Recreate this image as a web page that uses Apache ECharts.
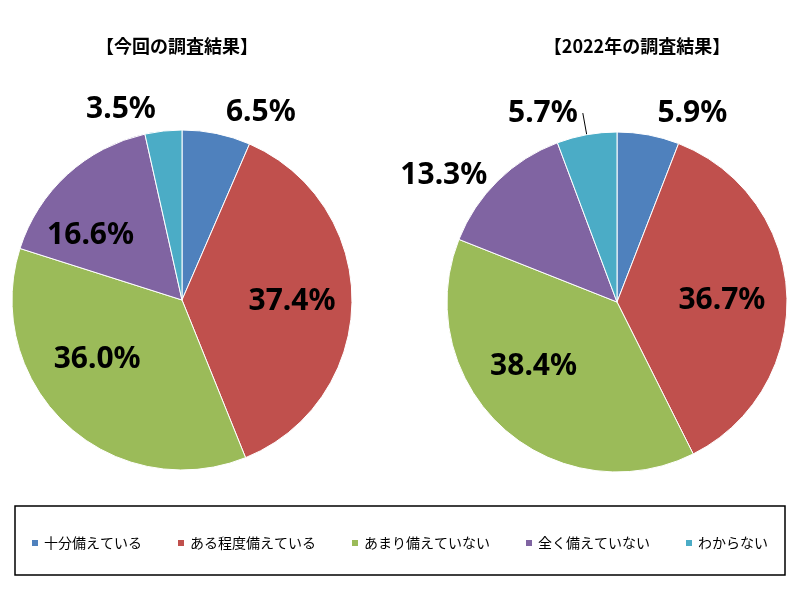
<!DOCTYPE html>
<html><head><meta charset="utf-8">
<script src="https://cdn.jsdelivr.net/npm/echarts@6/dist/echarts.min.js"></script>
<style>html,body{margin:0;padding:0;background:#fff}#c{width:798px;height:594px}</style>
</head><body><div id="c"></div>
<script>
const categories = ['十分備えている','ある程度備えている','あまり備えていない','全く備えていない','わからない'];
const currentValues = [6.5, 37.4, 36.0, 16.6, 3.5];
const prevValues = [5.9, 36.7, 38.4, 13.3, 5.7];
const titles = ['【今回の調査結果】','【2022年の調査結果】'];
const colors = ['#4F81BD','#C0504D','#9BBB59','#8064A2','#4BACC6'];
const font = '"Noto Sans CJK JP", "Noto Sans", sans-serif';
const shiftsL = [[0,0],[22,0],[-25,-5],[-32,0],[0,0]];
const shiftsR = [[0,0],[17,3],[-24,0],[0,0],[0,0]];
function mk(vals, center, shifts){
  const right = center[0]>400;
  return {
    type:'pie', radius:[0,170], center:center, startAngle:90, clockwise:true,
    itemStyle:{borderColor:'#fff',borderWidth:1},
    label:{fontSize:30,fontWeight:'bold',color:'#000',fontFamily:'"Noto Sans", sans-serif',
      formatter:p=>p.value.toFixed(1)+'%'},
    labelLine:{show:false},
    labelLayout: p => ({dx: shifts[p.dataIndex][0], dy: shifts[p.dataIndex][1]}),
    data: vals.map((v,i)=>{
      const big = v>10 && !(right && i===3);
      const d = {name:categories[i], value:v};
      if(big){ d.label={position:'inside'}; }
      else {
        d.label={position:'outside'};
        d.labelLine={show: right && i===4, length: (right && i===3) ? 8 : 22, length2:0, lineStyle:{color:'#000'}};
      }
      return d;
    })
  };
}
const chart = echarts.init(document.getElementById('c'));
chart.setOption({
  color: colors,
  animation:false,
  title:[
    {text:titles[0],left:172,top:32,textAlign:'center',textStyle:{fontSize:18,fontWeight:'bold',fontFamily:font,color:'#000'}},
    {text:titles[1],left:632,top:32,textAlign:'center',textStyle:{fontSize:18,fontWeight:'bold',fontFamily:font,color:'#000'}}
  ],
  legend:{
    data:categories, left:'center', top:531, itemWidth:8, itemHeight:8, icon:'rect', itemGap:34,
    textStyle:{fontSize:14,fontFamily:font,color:'#000'}
  },
  graphic:[{type:'rect',shape:{x:15,y:506,width:770,height:69},style:{fill:'none',stroke:'#000',lineWidth:1.5}}],
  series:[ mk(currentValues,[182,300],shiftsL), mk(prevValues,[617,302],shiftsR) ]
});
</script></body></html>
